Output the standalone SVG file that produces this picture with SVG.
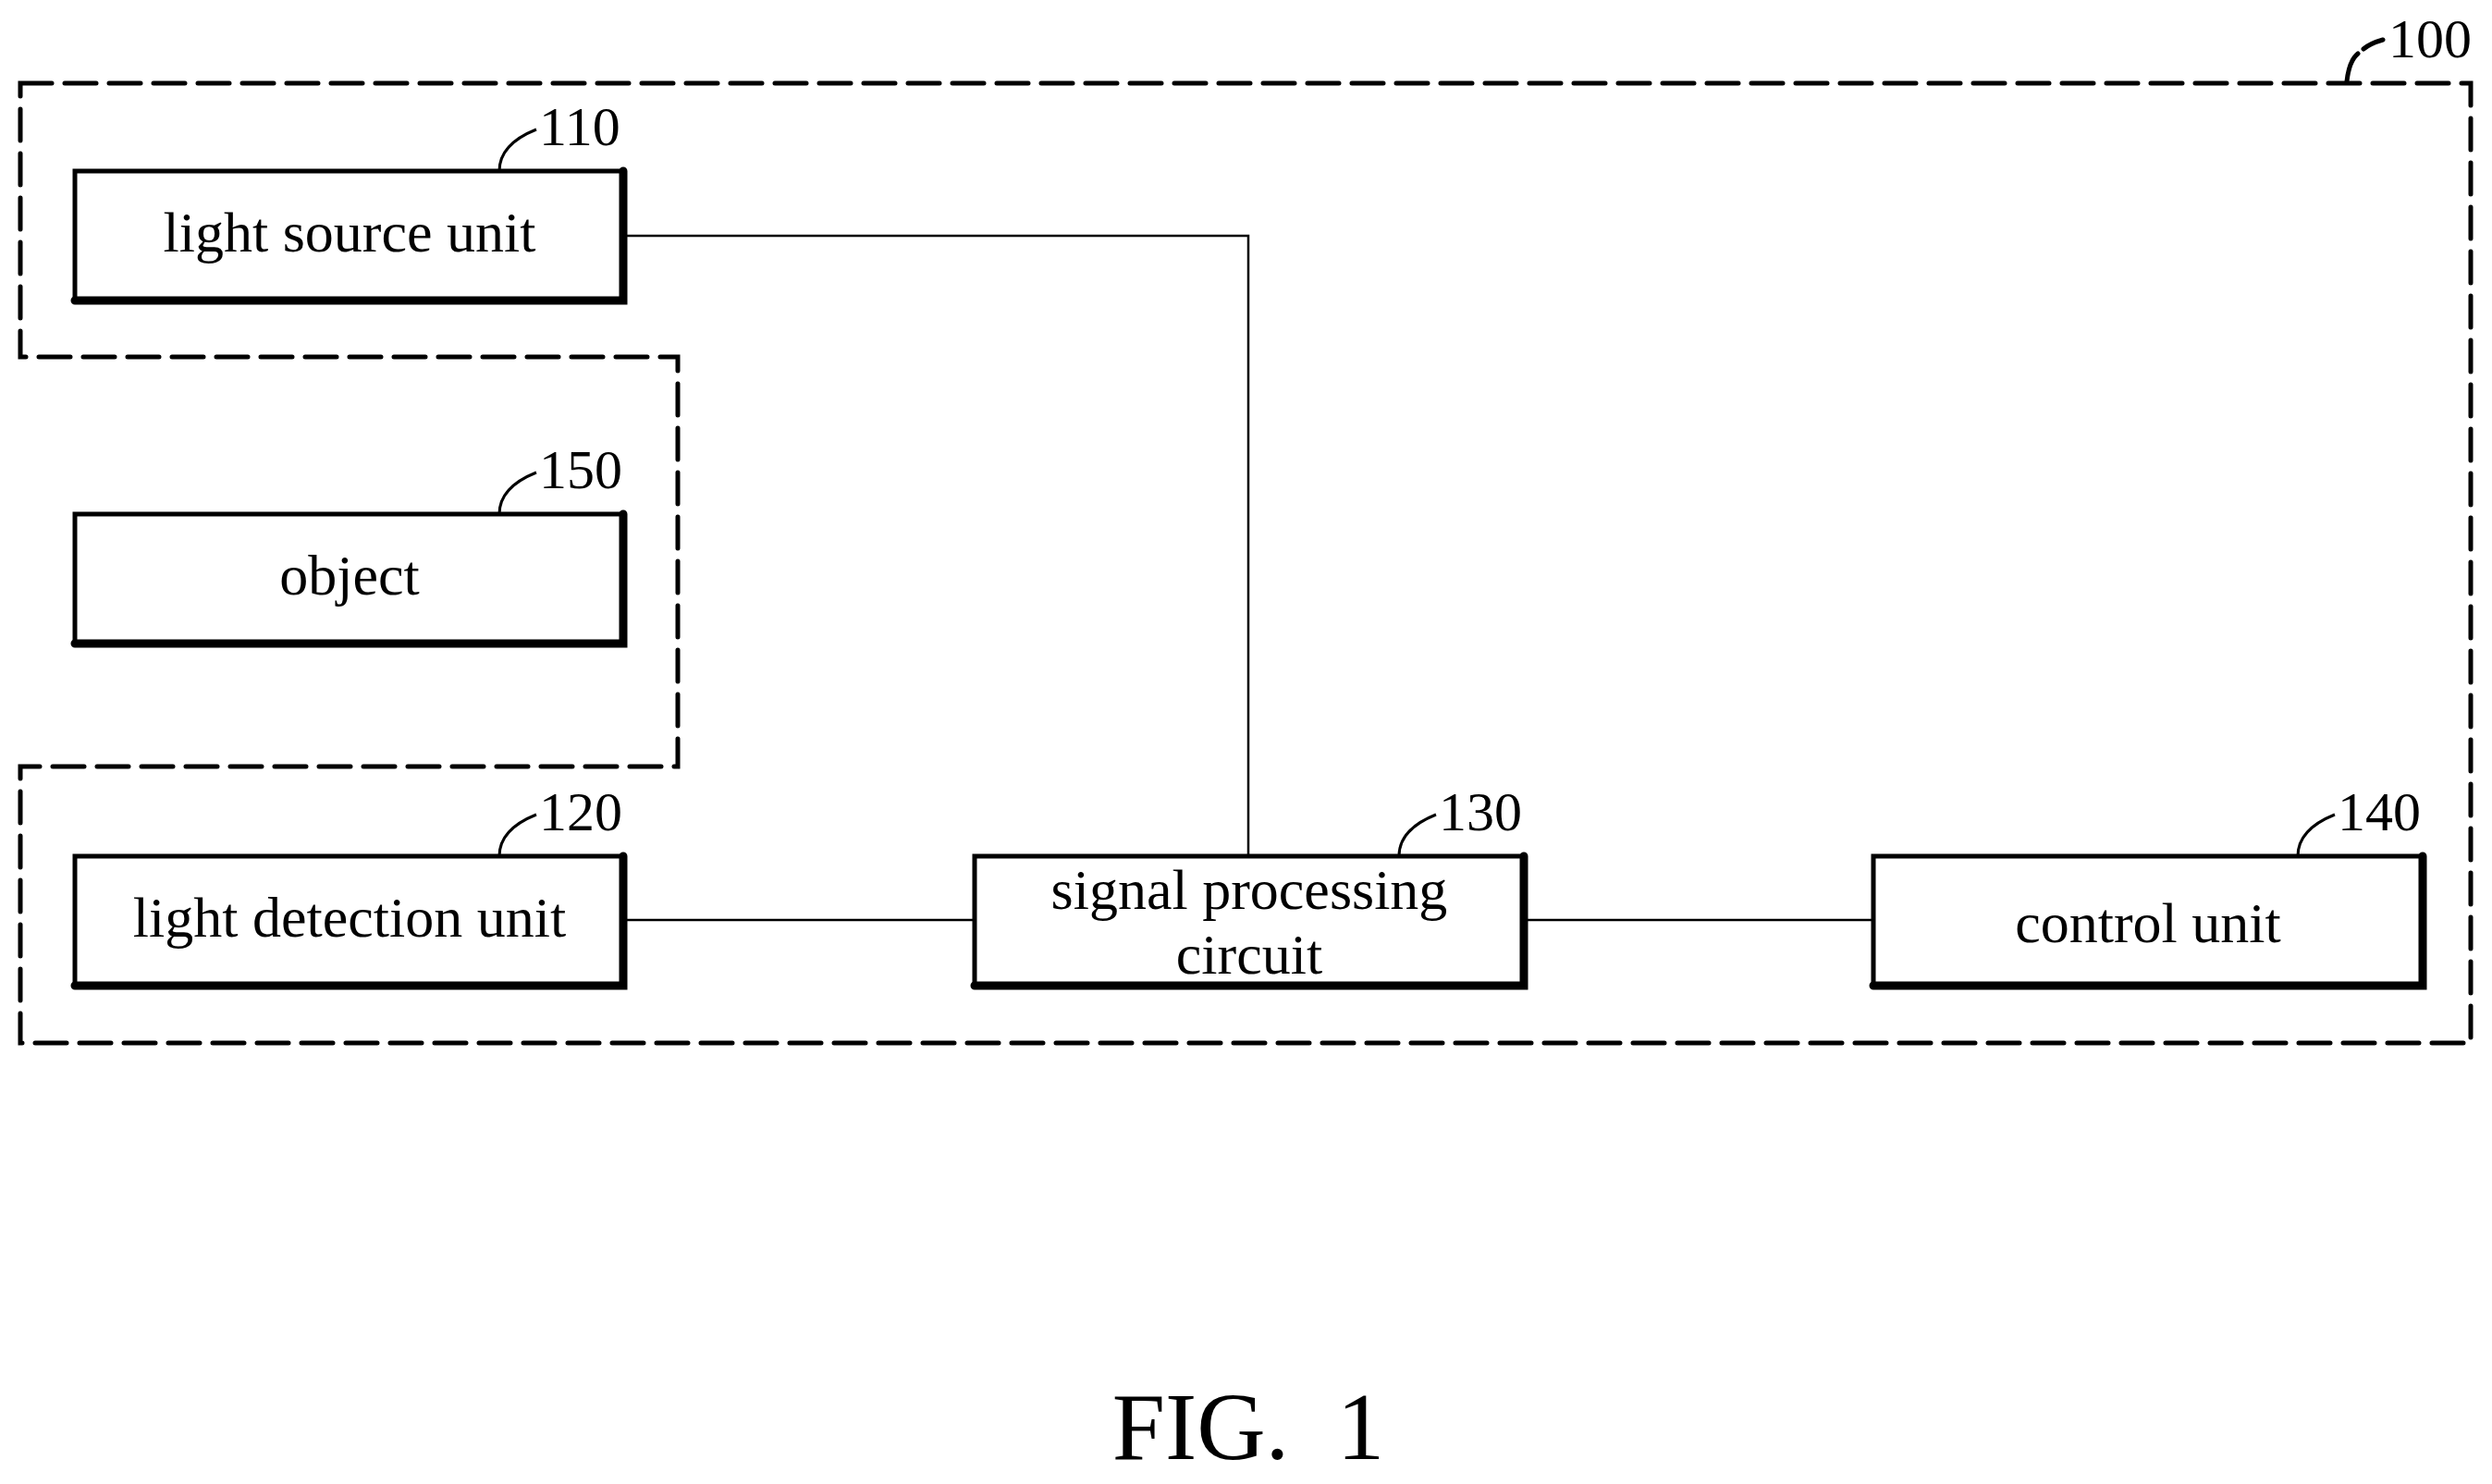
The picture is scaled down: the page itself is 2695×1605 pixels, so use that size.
<svg xmlns="http://www.w3.org/2000/svg" width="2695" height="1605" viewBox="0 0 2695 1605">
<style>
.box{fill:#fff;stroke:#000;stroke-width:5}
.sh{fill:none;stroke:#000;stroke-width:9;stroke-linecap:round}
.t{font-family:"Liberation Serif",serif;font-size:62px;text-anchor:middle;fill:#000}
.n{font-family:"Liberation Serif",serif;font-size:60px;fill:#000}
.ln{fill:none;stroke:#000;stroke-width:2.5}
.ld{fill:none;stroke:#000;stroke-width:3}
</style>
<rect width="2695" height="1605" fill="#fff"/>
<path d="M22,90 H2672 V1128 H22 V829 H733 V386 H22 Z" fill="none" stroke="#000" stroke-width="5" stroke-dasharray="34,14" stroke-linecap="round"/>
<g id="connectors">
<path class="ln" d="M676,255 H1350 V926"/>
<path class="ln" d="M676,995 H1054"/>
<path class="ln" d="M1650,995 H2026"/>
</g>
<g id="n110"><rect class="box" x="81" y="185" width="593" height="140"/><path class="sh" d="M81,325 H674 V185"/><text class="t" x="378" y="272">light source unit</text><path class="ld" d="M540,185 C540,165 555,150 580,140"/><text class="n" x="583" y="157">110</text></g>
<g id="n150"><rect class="box" x="81" y="556" width="593" height="140"/><path class="sh" d="M81,696 H674 V556"/><text class="t" x="378" y="643">object</text><path class="ld" d="M540,556 C540,536 555,521 580,511"/><text class="n" x="583" y="528">150</text></g>
<g id="n120"><rect class="box" x="81" y="926" width="593" height="140"/><path class="sh" d="M81,1066 H674 V926"/><text class="t" x="378" y="1013">light detection unit</text><path class="ld" d="M540,926 C540,906 555,891 580,881"/><text class="n" x="583" y="898">120</text></g>
<g id="n130"><rect class="box" x="1054" y="926" width="594" height="140"/><path class="sh" d="M1054,1066 H1648 V926"/><text class="t" x="1351" y="983">signal processing</text><text class="t" x="1351" y="1053">circuit</text><path class="ld" d="M1513,926 C1513,906 1528,891 1553,881"/><text class="n" x="1556" y="898">130</text></g>
<g id="n140"><rect class="box" x="2026" y="926" width="594" height="140"/><path class="sh" d="M2026,1066 H2620 V926"/><text class="t" x="2323" y="1019">control unit</text><path class="ld" d="M2485,926 C2485,906 2500,891 2525,881"/><text class="n" x="2528" y="898">140</text></g>
<g id="n100"><path d="M2538,88 C2540,70 2545,62 2550,58 M2556,53 C2562,48 2570,45 2577,43" fill="none" stroke="#000" stroke-width="5" stroke-linecap="round"/><text class="n" x="2583" y="62">100</text></g>
<text x="1350" y="1578" font-family="Liberation Serif,serif" font-size="103" text-anchor="middle" xml:space="preserve">FIG.  1</text>
</svg>
